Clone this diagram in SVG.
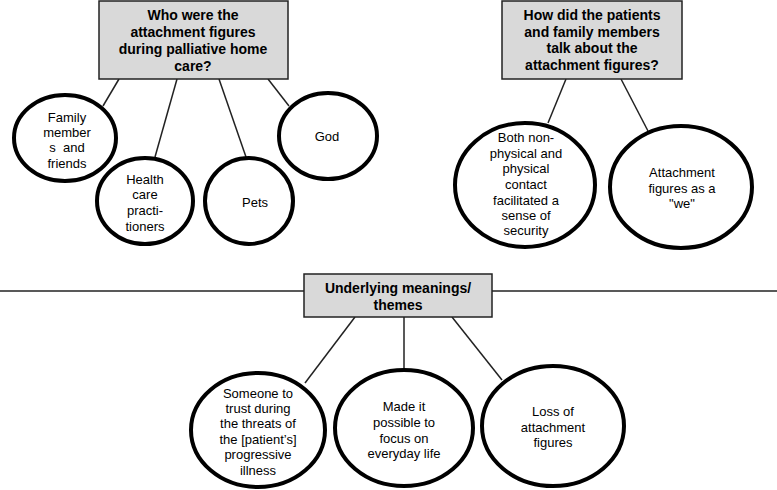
<svg xmlns="http://www.w3.org/2000/svg" width="777" height="490" viewBox="0 0 777 490">
<style>
.box{fill:#d9d9d9;stroke:#222;stroke-width:1.5}
.ell{fill:#fff;stroke:#000;stroke-width:4}
.con{stroke:#222;stroke-width:1.5;fill:none}
.t{font-family:"Liberation Sans",Arial,sans-serif;font-size:14px;font-weight:bold;fill:#000;text-anchor:middle}
.n{font-family:"Liberation Sans",Arial,sans-serif;font-size:13px;fill:#000;text-anchor:middle}
</style>
<rect width="777" height="490" fill="#fff"/>
<g id="connectors">
<line class="con" x1="119" y1="79" x2="103" y2="106"/>
<line class="con" x1="177" y1="79" x2="155" y2="157"/>
<line class="con" x1="219" y1="79" x2="246" y2="157"/>
<line class="con" x1="268" y1="79" x2="289" y2="106"/>
<line class="con" x1="566" y1="79" x2="548" y2="123"/>
<line class="con" x1="621" y1="79" x2="648" y2="131"/>
<line class="con" x1="0" y1="291" x2="777" y2="291"/>
<line class="con" x1="355" y1="317" x2="305" y2="383"/>
<line class="con" x1="404" y1="317" x2="404" y2="370"/>
<line class="con" x1="452" y1="317" x2="502" y2="380"/>
</g>
<g id="q1">
<rect class="box" x="99" y="1" width="189" height="78"/>
<text class="t" x="193" y="20">Who were the</text>
<text class="t" x="193" y="37">attachment figures</text>
<text class="t" x="193" y="54">during palliative home</text>
<text class="t" x="193" y="71">care?</text>
</g>
<g id="family">
<ellipse class="ell" cx="65" cy="138" rx="51" ry="43"/>
<text class="n" x="67" y="122">Family</text>
<text class="n" x="67" y="137">member</text>
<text class="n" x="67" y="152" xml:space="preserve">s  and</text>
<text class="n" x="67" y="168">friends</text>
</g>
<g id="health">
<ellipse class="ell" cx="145" cy="201" rx="48" ry="43"/>
<text class="n" x="145" y="184">Health</text>
<text class="n" x="145" y="199">care</text>
<text class="n" x="145" y="215">practi-</text>
<text class="n" x="145" y="231">tioners</text>
</g>
<g id="pets">
<ellipse class="ell" cx="249" cy="201" rx="44" ry="43"/>
<text class="n" x="255" y="207">Pets</text>
</g>
<g id="god">
<ellipse class="ell" cx="328" cy="136" rx="49" ry="43"/>
<text class="n" x="327" y="141">God</text>
</g>
<g id="q2">
<rect class="box" x="502" y="1" width="180" height="78"/>
<text class="t" x="592" y="20">How did the patients</text>
<text class="t" x="592" y="37">and family members</text>
<text class="t" x="592" y="53">talk about the</text>
<text class="t" x="592" y="70">attachment figures?</text>
</g>
<g id="contact">
<ellipse class="ell" cx="525" cy="185" rx="70" ry="62"/>
<text class="n" x="526" y="142">Both non-</text>
<text class="n" x="526" y="158">physical and</text>
<text class="n" x="526" y="173">physical</text>
<text class="n" x="526" y="189">contact</text>
<text class="n" x="526" y="205">facilitated a</text>
<text class="n" x="526" y="220">sense of</text>
<text class="n" x="526" y="235">security</text>
</g>
<g id="we">
<ellipse class="ell" cx="681" cy="187" rx="71" ry="61"/>
<text class="n" x="682" y="177">Attachment</text>
<text class="n" x="682" y="193">figures as a</text>
<text class="n" x="682" y="208">"we"</text>
</g>
<g id="q3">
<rect class="box" x="304" y="274" width="188" height="43"/>
<text class="t" x="398" y="293">Underlying meanings/</text>
<text class="t" x="398" y="310">themes</text>
</g>
<g id="trust">
<ellipse class="ell" cx="258" cy="430" rx="67" ry="57"/>
<text class="n" x="258" y="398">Someone to</text>
<text class="n" x="258" y="413">trust during</text>
<text class="n" x="258" y="428">the threats of</text>
<text class="n" x="258" y="444">the [patient’s]</text>
<text class="n" x="258" y="459">progressive</text>
<text class="n" x="258" y="475">illness</text>
</g>
<g id="focus">
<ellipse class="ell" cx="404" cy="428" rx="69" ry="58"/>
<text class="n" x="404" y="411">Made it</text>
<text class="n" x="404" y="427">possible to</text>
<text class="n" x="404" y="443">focus on</text>
<text class="n" x="404" y="458">everyday life</text>
</g>
<g id="loss">
<ellipse class="ell" cx="553" cy="426" rx="71" ry="60"/>
<text class="n" x="553" y="416">Loss of</text>
<text class="n" x="553" y="432">attachment</text>
<text class="n" x="553" y="447">figures</text>
</g>
</svg>
